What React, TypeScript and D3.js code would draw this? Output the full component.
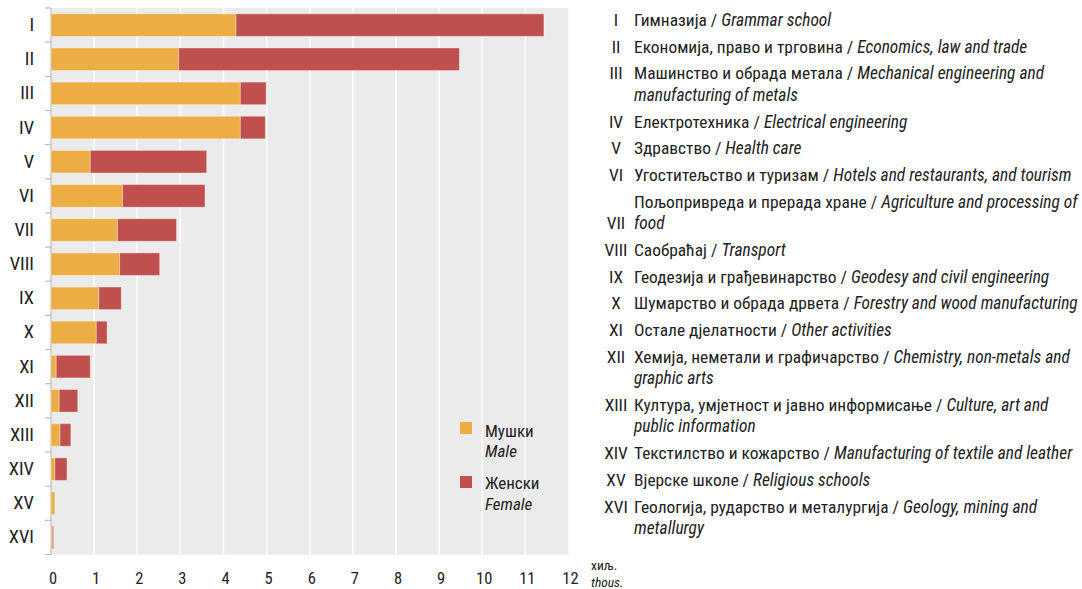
import React from "react";
import * as d3 from "d3";

const romans = ["I","II","III","IV","V","VI","VII","VIII","IX","X","XI","XII","XIII","XIV","XV","XVI"];
const male = [4.29, 2.96, 4.39, 4.39, 0.91, 1.66, 1.54, 1.59, 1.11, 1.05, 0.12, 0.19, 0.21, 0.09, 0.09, 0.03];
const female = [7.14, 6.51, 0.6, 0.58, 2.7, 1.91, 1.37, 0.93, 0.52, 0.25, 0.79, 0.43, 0.25, 0.28, 0, 0.03];
const xTicks = [0,1,2,3,4,5,6,7,8,9,10,11,12];

const namesSr = [
  "Гимназија",
  "Економија, право и трговина",
  "Машинство и обрада метала",
  "Електротехника",
  "Здравство",
  "Угоститељство и туризам",
  "Пољопривреда и прерада хране",
  "Саобраћај",
  "Геодезија и грађевинарство",
  "Шумарство и обрада дрвета",
  "Остале дјелатности",
  "Хемија, неметали и графичарство",
  "Култура, умјетност и јавно информисање",
  "Текстилство и кожарство",
  "Вјерске школе",
  "Геологија, рударство и металургија",
];
const namesEn = [
  "Grammar school",
  "Economics, law and trade",
  "Mechanical engineering and\nmanufacturing of metals",
  "Electrical engineering",
  "Health care",
  "Hotels and restaurants, and tourism",
  "Agriculture and processing of\nfood",
  "Transport",
  "Geodesy and civil engineering",
  "Forestry and wood manufacturing",
  "Other activities",
  "Chemistry, non-metals and\ngraphic arts",
  "Culture, art and\npublic information",
  "Manufacturing of textile and leather",
  "Religious schools",
  "Geology, mining and\nmetallurgy",
];
const numeralOnLastLine = ["VII"];

const FONT = "'Liberation Sans Narrow', 'Arial Narrow', 'Roboto Condensed', 'Liberation Sans', sans-serif";
const MALE_C = "#EDAD45";
const FEMALE_C = "#C0504D";

export default function App() {
  const left = 51, right = 568.5, top = 8, bottom = 554.5;
  const x = d3.scaleLinear().domain([0, 12]).range([left, right]);
  const y = d3.scaleBand<string>().domain(romans).range([top, bottom]).paddingInner(0.34).paddingOuter(0.17);
  const yStep = y.step();

  const itemStep = 26.7, wrapStep = 21.5;
  let cursor = 26;
  const listItems = romans.map((r, i) => {
    const enLines = namesEn[i].split("\n");
    const base = cursor;
    cursor += itemStep + (enLines.length - 1) * wrapStep;
    return { r, i, enLines, base };
  });

  return (
    <svg width={1082} height={589} style={{ position: "absolute", left: 0, top: 0, fontFamily: FONT }}>
      <rect x={left} y={top} width={right - left} height={bottom - top} fill="#EBEBEB" />
      {xTicks.slice(1, -1).map(t => (
        <line key={t} x1={x(t)} x2={x(t)} y1={top} y2={bottom} stroke="#fff" strokeWidth={1.5} />
      ))}
      <line x1={left} x2={left} y1={top} y2={bottom} stroke="#BDBDBD" strokeWidth={1.2} />
      {d3.range(romans.length + 1).map(k => (
        <line key={k} x1={left - 6} x2={left} y1={top + k * yStep} y2={top + k * yStep} stroke="#BDBDBD" strokeWidth={1.2} />
      ))}
      {romans.map((r, i) => (
        <g key={r}>
          <rect x={x(0)} y={y(r)} width={x(male[i]) - x(0)} height={y.bandwidth()} fill={MALE_C} stroke="#fff" strokeOpacity={0.35} strokeWidth={1} />
          {female[i] > 0 && (
            <rect x={x(male[i])} y={y(r)} width={x(male[i] + female[i]) - x(male[i])} height={y.bandwidth()} fill={FEMALE_C} stroke="#fff" strokeOpacity={0.35} strokeWidth={1} />
          )}
        </g>
      ))}
      {romans.map(r => (
        <text key={r} x={34} y={(y(r) as number) + y.bandwidth() / 2} textAnchor="end" dominantBaseline="central" fontSize={18.5} fill="#222">{r}</text>
      ))}
      {xTicks.map(t => (
        <text key={t} x={x(t) + 2} y={584} textAnchor="middle" fontSize={16.5} fill="#222">{t}</text>
      ))}
      <text x={591} y={570} fontSize={13.5} fill="#222">хиљ.</text>
      <text x={591} y={587} fontSize={13.5} fontStyle="italic" fill="#222">thous.</text>
      <rect x={460} y={422} width={12} height={12} fill={MALE_C} />
      <text x={485} y={437} fontSize={17} fill="#222">Мушки</text>
      <text x={485} y={457} fontSize={17} fontStyle="italic" fill="#222">Male</text>
      <rect x={460} y={476} width={12} height={12} fill={FEMALE_C} />
      <text x={485} y={489} fontSize={17} fill="#222">Женски</text>
      <text x={485} y={510} fontSize={17} fontStyle="italic" fill="#222">Female</text>
      {listItems.map(({ r, i, enLines, base }) => {
        const numY = numeralOnLastLine.includes(r) ? base + (enLines.length - 1) * wrapStep : base;
        return (
          <g key={r} fontSize={17.4} fill="#222">
            <text x={616} y={numY} textAnchor="middle">{r}</text>
            <text x={634} y={base}>
              {namesSr[i]} / <tspan fontStyle="italic">{enLines[0]}</tspan>
            </text>
            {enLines.slice(1).map((ln, k) => (
              <text key={k} x={634} y={base + (k + 1) * wrapStep} fontStyle="italic">{ln}</text>
            ))}
          </g>
        );
      })}
    </svg>
  );
}
